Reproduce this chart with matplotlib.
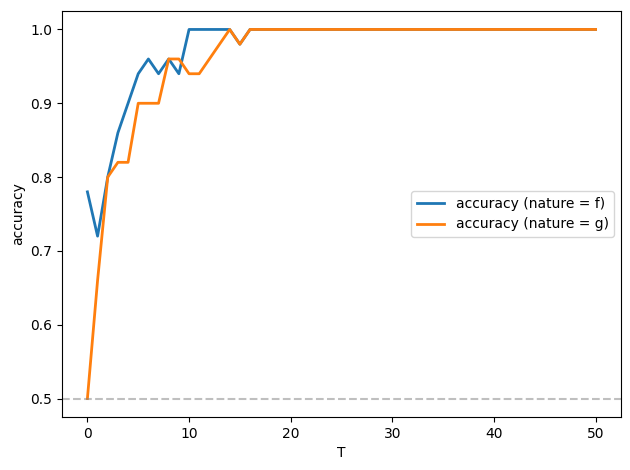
import numpy as np
import matplotlib
matplotlib.use("Agg")
import matplotlib.pyplot as plt

T = list(range(51))
acc_f = [0.78, 0.72, 0.80, 0.86, 0.90, 0.94, 0.96, 0.94, 0.96, 0.94,
         1.0, 1.0, 1.0, 1.0, 1.0, 0.98] + [1.0] * 35
acc_g = [0.50, 0.66, 0.80, 0.82, 0.82, 0.90, 0.90, 0.90, 0.96, 0.96,
         0.94, 0.94, 0.96, 0.98, 1.0, 0.98] + [1.0] * 35
chance = 0.5

fig = plt.figure(figsize=(6.3, 4.7), dpi=100)
ax = fig.add_axes([62 / 630, 53 / 470, 559 / 630, 406 / 470])
ax.plot(T, acc_f, linewidth=2, label="accuracy (nature = f)")
ax.plot(T, acc_g, linewidth=2, label="accuracy (nature = g)")
ax.axhline(chance, color="gray", linestyle="--", alpha=0.5)
ax.set_xlabel("T")
ax.set_ylabel("accuracy")
ax.legend(loc="center right")
fig.savefig("out.png")
